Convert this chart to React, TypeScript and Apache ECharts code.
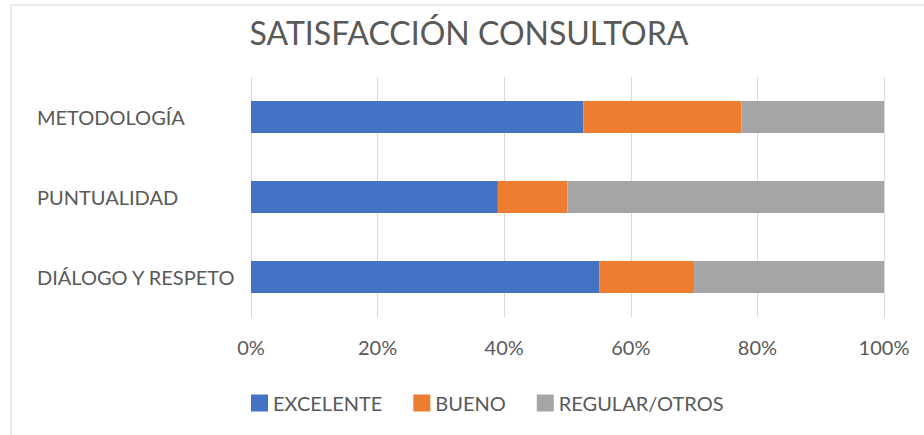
import React, { useEffect, useRef } from "react";
import * as echarts from "echarts";

const categories = ["DIÁLOGO Y RESPETO", "PUNTUALIDAD", "METODOLOGÍA"];
const seriesNames = ["EXCELENTE", "BUENO", "REGULAR/OTROS"];
const excelente = [55, 39, 52.5];
const bueno = [15, 11, 25];
const regular = [30, 50, 22.5];
const colors = ["#4472C4", "#ED7D31", "#A5A5A5"];
const titleText = "SATISFACCIÓN CONSULTORA";

const FONT = "Lato";
const TXT = "#595959";

export default function App() {
  const ref = useRef<HTMLDivElement>(null);
  useEffect(() => {
    if (!ref.current) return;
    const chart = echarts.init(ref.current, null, { renderer: "svg" });
    const values = [excelente, bueno, regular];
    chart.setOption({
      animation: false,
      backgroundColor: "#ffffff",
      textStyle: { fontFamily: FONT },
      graphic: [
        {
          type: "rect",
          z: -10,
          shape: { x: 11, y: 5, width: 1000, height: 1000 },
          style: { fill: "#ffffff", stroke: "#ebebeb", lineWidth: 2 },
          silent: true,
        },
        {
          type: "text",
          x: 469,
          y: 32,
          style: {
            text: titleText,
            fontFamily: FONT,
            fontSize: 32,
            fill: TXT,
            textAlign: "center",
            textVerticalAlign: "middle",
          },
        },
      ],
      legend: {
        left: 251,
        top: 393,
        padding: 0,
        itemWidth: 17,
        itemHeight: 17,
        itemGap: 31,
        icon: "rect",
        textStyle: { fontFamily: FONT, fontSize: 20, color: TXT },
        data: seriesNames,
      },
      grid: { left: 251, right: 40, top: 77, height: 240, containLabel: false },
      xAxis: {
        type: "value",
        min: 0,
        max: 100,
        interval: 20,
        axisLine: { show: false },
        axisTick: { show: false },
        splitLine: { lineStyle: { color: "#d9d9d9", width: 1 } },
        axisLabel: {
          formatter: "{value}%",
          fontFamily: FONT,
          fontSize: 20,
          color: TXT,
          margin: 20,
        },
      },
      yAxis: {
        type: "category",
        data: categories,
        axisLine: { show: false },
        axisTick: { show: false },
        splitLine: { show: false },
        axisLabel: {
          align: "left",
          margin: 214,
          fontFamily: FONT,
          fontSize: 20,
          color: TXT,
        },
      },
      series: seriesNames.map((name, i) => ({
        name,
        type: "bar",
        stack: "total",
        barWidth: 32,
        itemStyle: { color: colors[i] },
        data: values[i],
      })),
    });
    return () => chart.dispose();
  }, []);
  return (
    <div
      ref={ref}
      style={{ position: "fixed", left: 0, top: 0, width: 924, height: 435 }}
    />
  );
}
